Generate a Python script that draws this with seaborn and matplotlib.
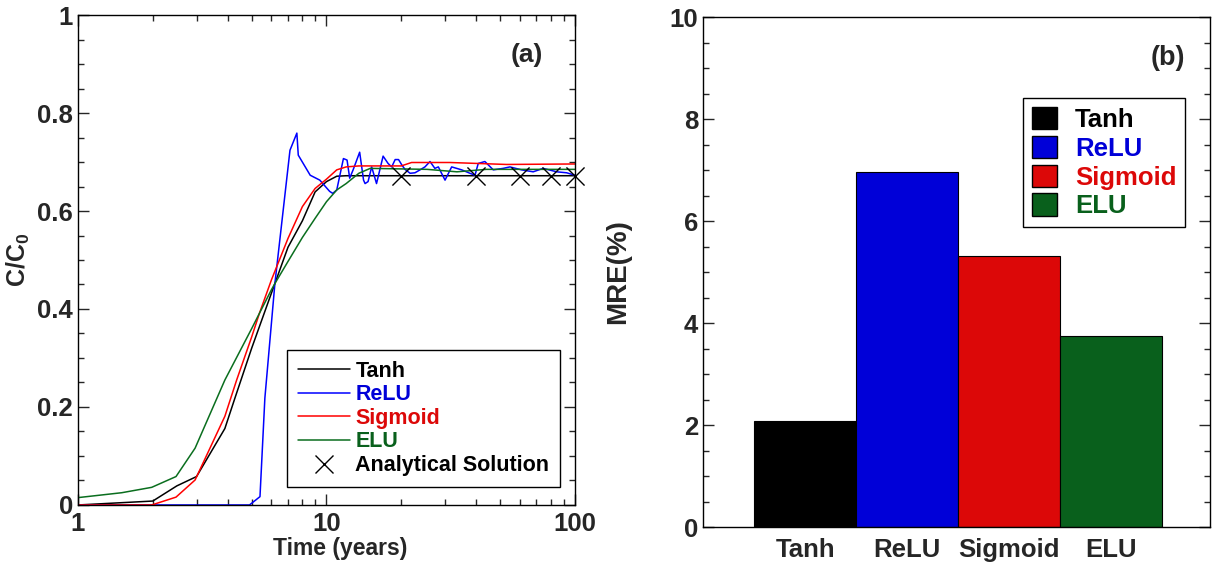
import numpy as np
import pandas as pd
import matplotlib
matplotlib.use("Agg")
import matplotlib.pyplot as plt
from matplotlib.ticker import FixedLocator, MultipleLocator, FormatStrFormatter, NullFormatter, LogLocator
from matplotlib.lines import Line2D
from matplotlib.patches import Patch
import seaborn as sns

# ---- panel (a): breakthrough curves, C/C0 vs time (years) ----
tanh_t = [1, 2, 2.5, 3, 3.9, 4.28, 5, 6, 7, 8, 9, 10, 11, 12, 20, 50, 100]
tanh_c = [0.0, 0.008, 0.039, 0.058, 0.156, 0.218, 0.32, 0.432, 0.526, 0.58, 0.639, 0.66, 0.671, 0.672, 0.672, 0.672, 0.672]

relu_t = [1, 4.9, 5.4, 5.65, 6.2, 7.13, 7.6, 7.7, 8.6, 9.4, 10.3, 10.6, 11.0, 11.7, 12.1, 12.4, 12.8,
          13.6, 14.1, 14.3, 14.7, 15.2, 15.9, 16.9, 17.7, 18.3, 18.9, 19.5, 20.1, 20.7, 21.7,
          22.7, 23.8, 24.9, 26.1, 27.3, 28.2, 30.0, 31.9, 35.0, 37.8, 39.6, 40.8, 43.4, 46.9,
          51.4, 54.7, 61.0, 67.9, 74.5, 84.4, 92.6, 100]
relu_c = [0.0, 0.0, 0.017, 0.218, 0.452, 0.724, 0.759, 0.714, 0.673, 0.663, 0.64, 0.636, 0.643, 0.707, 0.704,
          0.667, 0.684, 0.72, 0.663, 0.656, 0.66, 0.69, 0.656, 0.712, 0.697, 0.69, 0.705, 0.705,
          0.694, 0.685, 0.677, 0.678, 0.684, 0.69, 0.701, 0.687, 0.69, 0.663, 0.69, 0.684, 0.677,
          0.673, 0.697, 0.701, 0.684, 0.687, 0.69, 0.684, 0.68, 0.687, 0.68, 0.678, 0.673]

sigmoid_t = [1, 1.98, 2.48, 2.96, 3.9, 4.35, 5, 5.37, 6, 7, 8, 9, 10, 11, 12, 13.5, 20, 22, 31.4, 53, 100]
sigmoid_c = [0.0, 0.0, 0.016, 0.051, 0.181, 0.255, 0.343, 0.391, 0.459, 0.544, 0.609, 0.646, 0.665,
             0.684, 0.69, 0.692, 0.692, 0.699, 0.699, 0.695, 0.696]

elu_t = [1, 1.5, 1.98, 2.48, 2.96, 3.9, 5, 5.37, 6, 6.2, 7, 8, 9, 10, 11, 12, 13.5, 15, 25.4, 33.5, 44, 100]
elu_c = [0.015, 0.025, 0.036, 0.058, 0.116, 0.255, 0.36, 0.391, 0.439, 0.452, 0.497, 0.546, 0.585,
         0.619, 0.643, 0.656, 0.677, 0.687, 0.685, 0.68, 0.685, 0.685]

analytic_t = [20, 40, 60, 80, 100]
analytic_c = [0.672, 0.672, 0.672, 0.672, 0.672]

# ---- panel (b): mean relative error ----
models = ["Tanh", "ReLU", "Sigmoid", "ELU"]
mre = [2.08, 6.97, 5.32, 3.74]

line_colors = {"Tanh": "#000000", "ReLU": "#0000ff", "Sigmoid": "#ff0000", "ELU": "#0a6e1e"}
bar_colors = {"Tanh": "#000000", "ReLU": "#0000d8", "Sigmoid": "#dc0808", "ELU": "#09601c"}
text_colors = {"Tanh": "#000000", "ReLU": "#0000d8", "Sigmoid": "#dc0808", "ELU": "#09601c"}

sns.set_style("ticks")
plt.rcParams["font.family"] = ["Liberation Sans", "DejaVu Sans"]
plt.rcParams["font.weight"] = "bold"
plt.rcParams["mathtext.fontset"] = "custom"
plt.rcParams["mathtext.bf"] = "Liberation Sans:bold"
plt.rcParams["mathtext.rm"] = "Liberation Sans:bold"
plt.rcParams["mathtext.default"] = "bf"
plt.rcParams["axes.linewidth"] = 1.0

fig = plt.figure(figsize=(12.13, 5.67), dpi=100)
ax1 = fig.add_axes([0.0643, 0.1094, 0.4097, 0.8641])
ax2 = fig.add_axes([0.5796, 0.0705, 0.4180, 0.8995])

# panel (a)
curves = [("Tanh", tanh_t, tanh_c), ("ReLU", relu_t, relu_c),
          ("Sigmoid", sigmoid_t, sigmoid_c), ("ELU", elu_t, elu_c)]
for name, t, c in curves:
    sns.lineplot(x=t, y=c, ax=ax1, color=line_colors[name], linewidth=1.1,
                 estimator=None, sort=False, legend=False)
sns.scatterplot(x=analytic_t, y=analytic_c, ax=ax1, marker="x", s=170, color="black",
                linewidth=1.0, legend=False, clip_on=False, zorder=5)

ax1.set_xscale("log")
ax1.set_xlim(1, 100)
ax1.set_ylim(0, 1)
ax1.xaxis.set_major_locator(FixedLocator([1, 10, 100]))
ax1.xaxis.set_major_formatter(FormatStrFormatter("%g"))
ax1.xaxis.set_minor_locator(LogLocator(base=10, subs=np.arange(2, 10)))
ax1.xaxis.set_minor_formatter(NullFormatter())
ax1.yaxis.set_major_locator(MultipleLocator(0.2))
ax1.yaxis.set_minor_locator(MultipleLocator(0.05))
ax1.yaxis.set_major_formatter(FormatStrFormatter("%g"))
ax1.set_xlabel("Time (years)", fontsize=16.5, fontweight="bold")
ax1.xaxis.set_label_coords(0.527, -0.066)
ax1.set_ylabel("C/C$_0$", fontsize=18, fontweight="bold")
ax1.yaxis.set_label_coords(-0.093, 0.5)
ax1.text(0.903, 0.918, "(a)", transform=ax1.transAxes, fontsize=19, fontweight="bold",
         ha="center", va="center")

handles = [Line2D([], [], color=line_colors[m], linewidth=1.1) for m in models]
handles.append(Line2D([], [], color="black", marker="x", markersize=13, linestyle="none",
                      markeredgewidth=1.0))
labels = models + ["Analytical Solution"]
leg1 = ax1.legend(handles, labels, loc="lower right", bbox_to_anchor=(0.97, 0.037),
                  borderaxespad=0, fancybox=False, edgecolor="black", framealpha=1,
                  prop={"size": 15.5, "weight": "bold"}, handlelength=2.4,
                  handletextpad=0.25, labelspacing=0.12, borderpad=0.5)
leg1.get_frame().set_linewidth(1.0)
for txt, m in zip(leg1.get_texts(), labels):
    txt.set_color(text_colors.get(m, "black"))

# panel (b)
df = pd.DataFrame({"model": models, "mre": mre})
sns.barplot(data=df, x="model", y="mre", hue="model", palette=bar_colors, ax=ax2,
            width=1.0, edgecolor="black", linewidth=0.8, legend=False, saturation=1)
ax2.set_xlim(-1.0, 3.97)
ax2.set_ylim(0, 10)
ax2.yaxis.set_major_locator(MultipleLocator(2))
ax2.yaxis.set_minor_locator(MultipleLocator(0.5))
ax2.set_xlabel("")
ax2.set_ylabel("MRE(%)", fontsize=20, fontweight="bold")
ax2.yaxis.set_label_coords(-0.142, 0.5)
ax2.text(0.917, 0.92, "(b)", transform=ax2.transAxes, fontsize=19.5, fontweight="bold",
         ha="center", va="center")

patches = [Patch(facecolor=bar_colors[m], edgecolor="black", linewidth=1.0) for m in models]
leg2 = ax2.legend(patches, models, loc="upper right", bbox_to_anchor=(0.951, 0.841),
                  borderaxespad=0, fancybox=False, edgecolor="black", framealpha=1,
                  prop={"size": 18.5, "weight": "bold"}, handlelength=0.95, handleheight=0.95,
                  handletextpad=0.7, labelspacing=0.15, borderpad=0.35)
leg2.get_frame().set_linewidth(1.0)
for txt, m in zip(leg2.get_texts(), models):
    txt.set_color(text_colors[m])

for ax in (ax1, ax2):
    for sp in ax.spines.values():
        sp.set_visible(True)
        sp.set_color("black")
        sp.set_linewidth(1.0)
    ax.tick_params(which="both", direction="in", right=True, labelsize=18.5, width=1.0)
    ax.tick_params(which="major", length=8)
    ax.tick_params(which="minor", length=4)
    for lab in ax.get_xticklabels() + ax.get_yticklabels():
        lab.set_fontweight("bold")
ax1.tick_params(which="both", top=True)
ax1.tick_params(axis="x", which="major", pad=5)
ax2.tick_params(axis="x", which="both", length=0, top=False, bottom=False, pad=8)

fig.savefig("out.png", dpi=100)
